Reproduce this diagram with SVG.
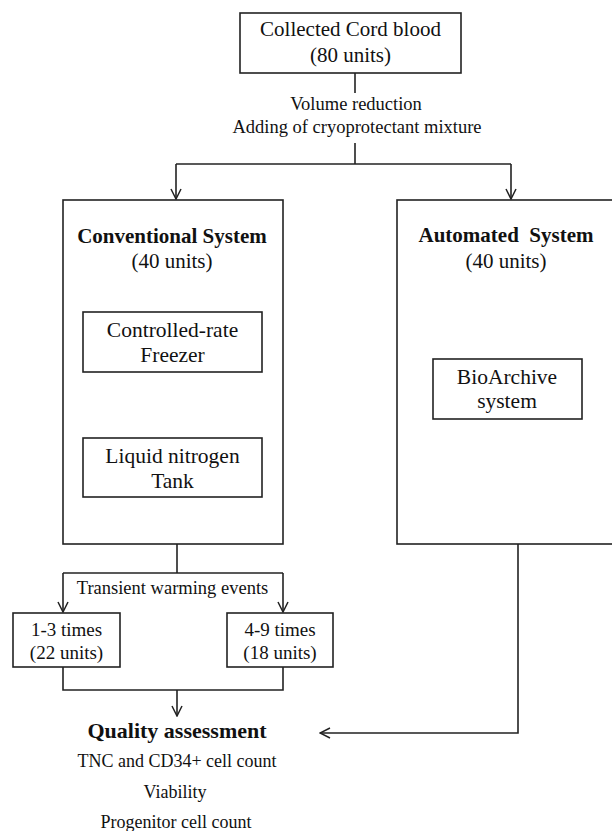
<svg xmlns="http://www.w3.org/2000/svg" width="612" height="831" viewBox="0 0 612 831">
<style>
.box{fill:#fff;stroke:#222;stroke-width:1.6}
.ln{fill:none;stroke:#222;stroke-width:1.6}
.t{font-family:"Liberation Serif","Times New Roman",serif;fill:#111;text-anchor:middle}
.b{font-weight:bold}
</style>
<defs>
<marker id="arr" viewBox="0 0 12 12" refX="11" refY="6" markerWidth="12" markerHeight="12" markerUnits="userSpaceOnUse" orient="auto">
<polyline points="1,1 11,6 1,11" fill="none" stroke="#222" stroke-width="1.5"/>
</marker>
</defs>
<rect width="612" height="831" fill="#fff"/>
<g id="connectors">
<line class="ln" x1="355" y1="73" x2="355" y2="93"/>
<polyline class="ln" points="355,143 355,164"/>
<polyline class="ln" points="176,164 511,164"/>
<line class="ln" x1="176" y1="164" x2="176" y2="199" marker-end="url(#arr)"/>
<line class="ln" x1="511" y1="164" x2="511" y2="199" marker-end="url(#arr)"/>
<line class="ln" x1="176" y1="386" x2="176" y2="423" marker-end="url(#arr)"/>
<line class="ln" x1="177" y1="544" x2="177" y2="573"/>
<polyline class="ln" points="63,573 283,573"/>
<line class="ln" x1="63" y1="573" x2="63" y2="612" marker-end="url(#arr)"/>
<line class="ln" x1="283" y1="573" x2="283" y2="612" marker-end="url(#arr)"/>
<polyline class="ln" points="63,667 63,690 283,690 283,667"/>
<line class="ln" x1="177" y1="690" x2="177" y2="716" marker-end="url(#arr)"/>
<polyline class="ln" points="518,544 518,733 320,733" marker-end="url(#arr)"/>
</g>
<g id="collected">
<rect class="box" x="240" y="13" width="221" height="60"/>
<text class="t" x="350.5" y="36" font-size="21">Collected Cord blood</text>
<text class="t" x="350.5" y="62" font-size="21">(80 units)</text>
</g>
<g id="processing">
<text class="t" x="356" y="110" font-size="18.5">Volume reduction</text>
<text class="t" x="357" y="133" font-size="18.5">Adding of cryoprotectant mixture</text>
</g>
<g id="conventional">
<rect class="box" x="63" y="200" width="220" height="344"/>
<text class="t b" x="172" y="243" font-size="21">Conventional System</text>
<text class="t" x="172" y="268" font-size="21">(40 units)</text>
</g>
<g id="freezer">
<rect class="box" x="83" y="312" width="179" height="60"/>
<text class="t" x="172.5" y="337" font-size="21.5">Controlled-rate</text>
<text class="t" x="172.5" y="362" font-size="21.5">Freezer</text>
</g>
<g id="tank">
<rect class="box" x="83" y="438" width="179" height="59"/>
<text class="t" x="172.5" y="463" font-size="21.5">Liquid nitrogen</text>
<text class="t" x="172.5" y="488" font-size="21.5">Tank</text>
</g>
<g id="automated">
<rect class="box" x="397" y="200" width="222" height="344"/>
<text class="t b" x="506" y="242" font-size="21" xml:space="preserve">Automated  System</text>
<text class="t" x="506" y="268" font-size="21">(40 units)</text>
</g>
<g id="bioarchive">
<rect class="box" x="433" y="359" width="149" height="60"/>
<text class="t" x="507" y="384" font-size="21.5">BioArchive</text>
<text class="t" x="507" y="408" font-size="21.5">system</text>
</g>
<g id="warming">
<text class="t" x="172.5" y="594" font-size="18.5">Transient warming events</text>
</g>
<g id="times13">
<rect class="box" x="13" y="613" width="107" height="54"/>
<text class="t" x="66.5" y="636" font-size="19">1-3 times</text>
<text class="t" x="66.5" y="659" font-size="19">(22 units)</text>
</g>
<g id="times49">
<rect class="box" x="227" y="613" width="106" height="54"/>
<text class="t" x="280" y="636" font-size="19">4-9 times</text>
<text class="t" x="280" y="659" font-size="19">(18 units)</text>
</g>
<g id="quality">
<text class="t b" x="177" y="738" font-size="22">Quality assessment</text>
<text class="t" x="177" y="767" font-size="18">TNC and CD34+ cell count</text>
<text class="t" x="175" y="798" font-size="18">Viability</text>
<text class="t" x="176" y="828" font-size="18">Progenitor cell count</text>
</g>
</svg>
